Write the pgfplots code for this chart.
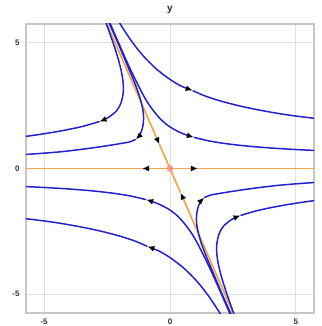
\documentclass[border=0pt]{standalone}
\usepackage{pgfplots}
\pgfplotsset{compat=1.18}
\usetikzlibrary{arrows.meta}
\usepackage{fontspec}
\setmainfont{Liberation Sans}

\definecolor{traj}{RGB}{34,34,206}
\definecolor{eig}{RGB}{244,166,70}
\definecolor{origin}{RGB}{250,150,150}
\definecolor{gridc}{RGB}{224,224,224}
\definecolor{framec}{RGB}{198,198,198}

\tikzset{
  flow/.style={-{Latex[length=7pt,width=6pt,color=black]}},
}

\begin{document}
\begin{tikzpicture}
\begin{axis}[
  scale only axis,
  width=288pt, height=289pt,
  xmin=-5.72, xmax=5.72, ymin=-5.75, ymax=5.75,
  xtick={-5,0,5}, ytick={-5,0,5},
  grid=major,
  major grid style={gridc, line width=0.8pt},
  axis line style={framec, line width=1.3pt},
  tick style={draw=none},
  /pgf/number format/assume math mode=true,
  ticklabel style={font=\fontsize{8}{9}\selectfont\bfseries, text=black!80},
  yticklabel style={xshift=-3pt},
  xticklabel style={yshift=-2pt},
  title={y},
  title style={at={(0.5,1)}, anchor=south, yshift=1pt,
               font=\fontsize{10}{11}\selectfont\bfseries, text=black!85},
  every axis plot/.append style={line width=1.5pt},
]

% eigen-directions: unstable along y = 0, stable along the line through the origin
\addplot[eig, line width=1.7pt, flow] coordinates {(0,0) (-1.11,0)};
\addplot[eig, line width=1.7pt] coordinates {(-1.11,0) (-6,0)};
\addplot[eig, line width=1.7pt, flow] coordinates {(0,0) (1.11,0)};
\addplot[eig, line width=1.7pt] coordinates {(1.11,0) (6,0)};
\addplot[eig, line width=1.7pt, flow] coordinates {(-2.57,5.9) (-0.42,0.96)};
\addplot[eig, line width=1.7pt] coordinates {(-0.42,0.96) (0,0)};
\addplot[eig, line width=1.7pt, flow] coordinates {(2.57,-5.9) (0.42,-0.96)};
\addplot[eig, line width=1.7pt] coordinates {(0.42,-0.96) (0,0)};

% upper trajectories (flow runs from the top towards the sides)
\addplot[traj, smooth, flow] coordinates {(-2.066,5.9) (-1.820,5.5) (-1.479,5.0) (-1.080,4.5) (-0.587,4.0) (-0.081,3.6) (0.405,3.3) (0.900,3.1)};
\addplot[traj, smooth] coordinates {(0.900,3.1) (1.360,2.9) (1.960,2.7) (2.720,2.5) (3.420,2.35) (4.240,2.2) (4.900,2.1) (5.710,2.0) (6.175,1.95)};

\addplot[traj, smooth, flow] coordinates {(-2.433,5.9) (-2.044,5.0) (-1.597,4.0) (-1.103,3.0) (-0.806,2.5) (-0.411,2.0) (-0.065,1.7) (0.266,1.5) (0.610,1.35) (0.946,1.24)};
\addplot[traj, smooth] coordinates {(0.946,1.24) (1.538,1.1) (2.141,1.0) (2.989,0.9) (3.944,0.82) (4.905,0.76) (5.709,0.72) (6.174,0.70)};

\addplot[traj, smooth, flow] coordinates {(-2.58,5.9) (-2.26,5.0) (-2.04,4.3) (-1.92,3.8) (-1.86,3.4) (-1.86,3.0) (-1.95,2.6) (-2.12,2.3) (-2.45,2.03) (-2.80,1.87)};
\addplot[traj, smooth] coordinates {(-2.80,1.87) (-3.45,1.68) (-4.20,1.52) (-4.95,1.39) (-5.71,1.28) (-6.15,1.23)};

\addplot[traj, smooth, flow] coordinates {(-2.47,5.9) (-2.07,5.0) (-1.65,4.0) (-1.36,3.3) (-1.16,2.7) (-1.06,2.2) (-1.06,1.8) (-1.13,1.5) (-1.22,1.31) (-1.36,1.16)};
\addplot[traj, smooth] coordinates {(-1.36,1.16) (-1.60,1.06) (-1.98,0.99) (-2.60,0.89) (-3.30,0.79) (-4.20,0.68) (-5.00,0.61) (-5.71,0.56) (-6.20,0.53)};

% lower trajectories (flow runs from the bottom towards the sides)
\addplot[traj, smooth, flow] coordinates {(2.066,-5.9) (1.820,-5.5) (1.479,-5.0) (1.080,-4.5) (0.587,-4.0) (0.081,-3.6) (-0.405,-3.3) (-0.900,-3.1)};
\addplot[traj, smooth] coordinates {(-0.900,-3.1) (-1.360,-2.9) (-1.960,-2.7) (-2.720,-2.5) (-3.420,-2.35) (-4.240,-2.2) (-4.900,-2.1) (-5.710,-2.0) (-6.175,-1.95)};

\addplot[traj, smooth, flow] coordinates {(2.433,-5.9) (2.044,-5.0) (1.597,-4.0) (1.103,-3.0) (0.806,-2.5) (0.411,-2.0) (0.065,-1.7) (-0.266,-1.5) (-0.610,-1.35) (-0.946,-1.24)};
\addplot[traj, smooth] coordinates {(-0.946,-1.24) (-1.538,-1.1) (-2.141,-1.0) (-2.989,-0.9) (-3.944,-0.82) (-4.905,-0.76) (-5.709,-0.72) (-6.174,-0.70)};

\addplot[traj, smooth, flow] coordinates {(2.58,-5.9) (2.26,-5.0) (2.04,-4.3) (1.92,-3.8) (1.86,-3.4) (1.86,-3.0) (1.95,-2.6) (2.12,-2.3) (2.45,-2.03) (2.80,-1.87)};
\addplot[traj, smooth] coordinates {(2.80,-1.87) (3.45,-1.68) (4.20,-1.52) (4.95,-1.39) (5.71,-1.28) (6.15,-1.23)};

\addplot[traj, smooth, flow] coordinates {(2.47,-5.9) (2.07,-5.0) (1.65,-4.0) (1.36,-3.3) (1.16,-2.7) (1.06,-2.2) (1.06,-1.8) (1.13,-1.5) (1.22,-1.31) (1.36,-1.16)};
\addplot[traj, smooth] coordinates {(1.36,-1.16) (1.60,-1.06) (1.98,-0.99) (2.60,-0.89) (3.30,-0.79) (4.20,-0.68) (5.00,-0.61) (5.71,-0.56) (6.20,-0.53)};

% equilibrium
\addplot[only marks, mark=*, mark size=2.5pt, origin, draw=none] coordinates {(0,0)};
\end{axis}
\pgfresetboundingbox
\path[use as bounding box]
  ([shift={(-26pt,-13pt)}]current axis.south west) rectangle
  ([shift={(7pt,24pt)}]current axis.north east);
\end{tikzpicture}
\end{document}
